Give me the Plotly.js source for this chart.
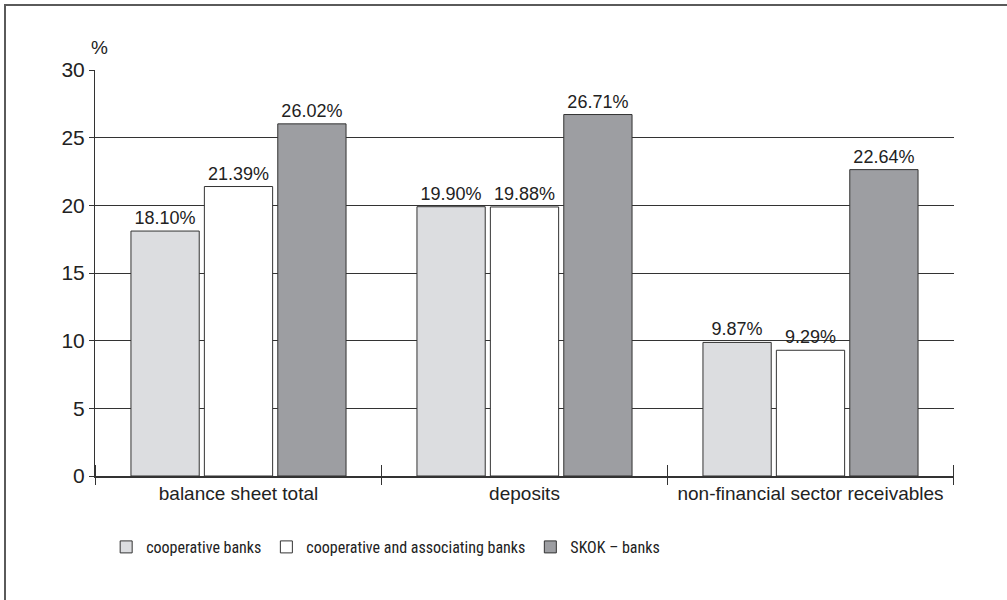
<!DOCTYPE html>
<html>
<head>
<meta charset="utf-8">
<script src="https://cdn.plot.ly/plotly-3.0.1.min.js"></script>
<style>
  html, body { margin: 0; padding: 0; background: #fff; }
  #wrap { position: relative; width: 1007px; height: 600px; }
  #chart { width: 1007px; height: 600px; }
  #frame { position: absolute; left: 4px; top: 4px; right: 0; bottom: 0;
           border-left: 2px solid #5a5a5a; border-top: 2px solid #5a5a5a; pointer-events: none; }
</style>
</head>
<body>
<div id="wrap"><div id="chart"></div><div id="frame"></div></div>
<script>
const categories = ["balance sheet total", "deposits", "non-financial sector receivables"];
const seriesNames = ["cooperative banks", "cooperative and associating banks", "SKOK – banks"];
const cooperativeBanks = [18.10, 19.90, 9.87];
const cooperativeAssociating = [21.39, 19.88, 9.29];
const skokBanks = [26.02, 26.71, 22.64];
const seriesColors = ["#dcdde0", "#ffffff", "#9d9ea2"];
const yTicks = [0, 5, 10, 15, 20, 25, 30];

const values = [cooperativeBanks, cooperativeAssociating, skokBanks];
const wideFont = "Liberation Sans, Arial, Helvetica, sans-serif";
const narrowFont = "Roboto Condensed, Arial Narrow, sans-serif";

const traces = values.map((v, i) => ({
  type: "bar",
  name: seriesNames[i],
  x: categories,
  y: v,
  text: v.map(n => n.toFixed(2) + "%"),
  textposition: "outside",
  textfont: { family: wideFont, size: 18, color: "#222" },
  cliponaxis: false,
  marker: { color: seriesColors[i], line: { color: "#333", width: 1 } },
  hoverinfo: "none"
}));

// inner part of category divider ticks (crossing the axis)
const shapes = [];
for (let i = 0; i <= categories.length; i++) {
  shapes.push({
    type: "line", xref: "x", yref: "y", x0: i - 0.5, x1: i - 0.5,
    ysizemode: "pixel", yanchor: 0, y0: 0, y1: 11,
    line: { color: "#333", width: 1 }
  });
}

const layout = {
  width: 1007, height: 600,
  margin: { l: 95, r: 53, t: 70, b: 124 },
  paper_bgcolor: "#fff", plot_bgcolor: "#fff",
  barmode: "group", bargap: 0.23, bargroupgap: 0.07,
  showlegend: true,
  legend: {
    orientation: "h", x: 0.013, xanchor: "left", y: -0.133, yanchor: "top",
    font: { family: narrowFont, size: 16, color: "#222" },
    traceorder: "normal", itemclick: false, itemdoubleclick: false
  },
  xaxis: {
    type: "category", categoryarray: categories,
    showline: true, linecolor: "#333", linewidth: 1.5,
    ticks: "outside", tickson: "boundaries", ticklen: 7, tickcolor: "#333", tickwidth: 1,
    tickfont: { family: wideFont, size: 19, color: "#222" },
    showgrid: false, zeroline: false
  },
  yaxis: {
    range: [0, 30], tickvals: yTicks, ticktext: yTicks.map(String),
    showline: true, linecolor: "#333", linewidth: 1,
    ticks: "outside", ticklen: 5, tickcolor: "#333",
    tickfont: { family: wideFont, size: 21, color: "#222" },
    showgrid: true, gridcolor: "#333", gridwidth: 1, zeroline: false
  },
  shapes: shapes,
  annotations: [{
    text: "%", xref: "paper", yref: "paper", x: 0, y: 1,
    xanchor: "center", yanchor: "bottom", xshift: 4, yshift: 10, showarrow: false,
    font: { family: wideFont, size: 19, color: "#222" }
  }]
};

Plotly.newPlot("chart", traces, layout, { displayModeBar: false, staticPlot: true });
</script>
</body>
</html>
